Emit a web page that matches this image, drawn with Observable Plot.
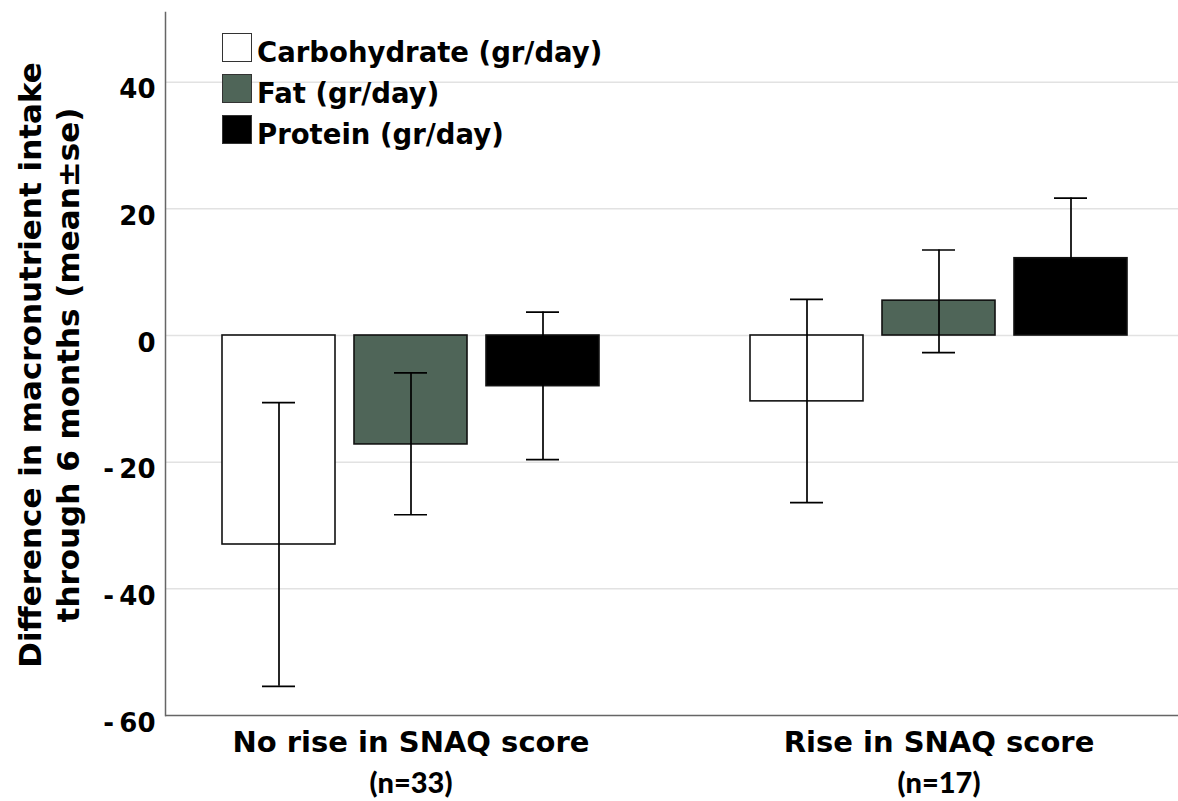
<!DOCTYPE html>
<html>
<head>
<meta charset="utf-8">
<script src="https://cdn.jsdelivr.net/npm/d3@7"></script>
<script src="https://cdn.jsdelivr.net/npm/@observablehq/plot@0.6"></script>
<style>
  html, body { margin: 0; padding: 0; background: #fff; }
  #wrap { position: relative; width: 1178px; height: 801px; overflow: hidden; }
  #wrap svg { position: absolute; left: 0; top: 0; }
  .ytitle {
    position: absolute; width: 700px; height: 76px; left: -301px; top: 327px;
    transform: rotate(-90deg); transform-origin: 50% 50%;
    font-family: "DejaVu Sans", sans-serif; font-weight: bold; font-size: 31px;
    line-height: 38px; text-align: center; color: #000; white-space: nowrap;
  }
  .leg-sw { position: absolute; width: 28px; height: 27px; border: 1.5px solid #333; }
  .leg-tx {
    position: absolute; font-family: "DejaVu Sans", sans-serif; font-weight: bold;
    font-size: 27.5px; line-height: 27px; color: #000; white-space: nowrap;
  }
</style>
</head>
<body>
<div id="wrap"></div>
<script>
// ---- data ----
const groups = ["No rise in SNAQ score", "Rise in SNAQ score"];
const groupN = ["(n=33)", "(n=17)"];
const nutrients = ["Carbohydrate (gr/day)", "Fat (gr/day)", "Protein (gr/day)"];
const meanNoRise = [-33.0, -17.2, -8.0];
const lowNoRise  = [-55.4, -28.3, -19.6];
const highNoRise = [-10.6, -5.9, 3.7];
const meanRise = [-10.4, 5.5, 12.2];
const lowRise  = [-26.4, -2.7, 2.7];
const highRise = [5.7, 13.5, 21.7];
const yTicks = [-60, -40, -20, 0, 20, 40];
const gridTicks = [-40, -20, 0, 20, 40];
const yTitle = ["Difference in macronutrient intake", "through 6 months (mean\u00b1se)"];

// ---- table built from the arrays ----
const key = (g, n) => g + "|" + n;
const rows = [];
groups.forEach((g, gi) => {
  const m = gi === 0 ? meanNoRise : meanRise;
  const lo = gi === 0 ? lowNoRise : lowRise;
  const hi = gi === 0 ? highNoRise : highRise;
  nutrients.forEach((n, ni) => rows.push({group: g, nutrient: n, mean: m[ni], lo: lo[ni], hi: hi[ni]}));
});
const xDomain = [];
groups.forEach((g, gi) => {
  if (gi > 0) xDomain.push("spacer" + gi);
  nutrients.forEach(n => xDomain.push(key(g, n)));
});
const fmt = d => d < 0 ? "-\u2009" + (-d) : String(d);
const font = "DejaVu Sans";

const chart = Plot.plot({
  width: 1178,
  height: 801,
  marginLeft: 165,
  marginRight: 0,
  marginTop: 12,
  marginBottom: 86,
  style: {background: "transparent"},
  x: {domain: xDomain, paddingInner: 0.142, paddingOuter: 0.401, align: 0.528, axis: null},
  y: {domain: [-60, 51], axis: null},
  color: {domain: nutrients, range: ["#ffffff", "#4f6558", "#000000"]},
  marks: [
    Plot.ruleY(gridTicks, {y: d => d, stroke: "#e2e2e2", strokeWidth: 1.5}),
    Plot.barY(rows, {x: d => key(d.group, d.nutrient), y: "mean", fill: "nutrient", stroke: "#111", strokeWidth: 1.6}),
    Plot.ruleX(rows, {x: d => key(d.group, d.nutrient), y1: "lo", y2: "hi", stroke: "#000", strokeWidth: 1.7}),
    Plot.tickY(rows, {x: d => key(d.group, d.nutrient), y: "lo", stroke: "#000", strokeWidth: 1.7, insetLeft: 40, insetRight: 40}),
    Plot.tickY(rows, {x: d => key(d.group, d.nutrient), y: "hi", stroke: "#000", strokeWidth: 1.7, insetLeft: 40, insetRight: 40}),
    Plot.ruleY([-60], {y: d => d, stroke: "#666", strokeWidth: 1.5}),
    Plot.frame({anchor: "left", stroke: "#666", strokeWidth: 1.5}),
    Plot.text(yTicks, {y: d => d, frameAnchor: "left", textAnchor: "end", dx: -10, dy: 8, text: fmt,
      fontFamily: font, fontWeight: "bold", fontSize: 26, fill: "#000"}),
    Plot.text(groups, {x: g => key(g, nutrients[1]), frameAnchor: "bottom", dy: 36, text: g => g,
      fontFamily: font, fontWeight: "bold", fontSize: 29, fill: "#000"}),
    Plot.text(groups, {x: g => key(g, nutrients[1]), frameAnchor: "bottom", dy: 77, text: (g, i) => groupN[i],
      fontFamily: "Lato", fontWeight: 900, fontSize: 29, fill: "#000"})
  ]
});

const wrap = document.getElementById("wrap");
wrap.appendChild(chart);

// y-axis title (two lines, rotated)
const t = document.createElement("div");
t.className = "ytitle";
t.innerHTML = yTitle.map(s => "<div>" + s + "</div>").join("");
wrap.appendChild(t);

// legend
const swFill = ["#ffffff", "#4f6558", "#000000"];
nutrients.forEach((n, i) => {
  const sw = document.createElement("div");
  sw.className = "leg-sw";
  sw.style.left = "222px";
  sw.style.top = (33 + i * 41) + "px";
  sw.style.background = swFill[i];
  wrap.appendChild(sw);
  const tx = document.createElement("div");
  tx.className = "leg-tx";
  tx.style.left = "257px";
  tx.style.top = (33 + i * 41 + 6) + "px";
  tx.textContent = n;
  wrap.appendChild(tx);
});
</script>
</body>
</html>
